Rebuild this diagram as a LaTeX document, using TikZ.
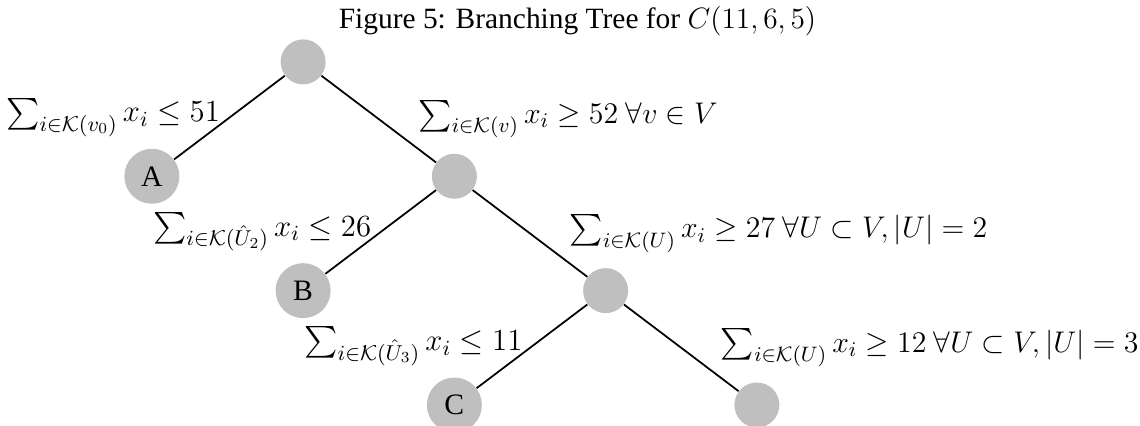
\RequirePackage{fix-cm}
\documentclass[tikz,border=0pt,12pt]{standalone}
\usepackage{amsmath}
\usepackage{fontspec}
\setmainfont{Liberation Serif}
\usetikzlibrary{positioning}
\tikzset{
  bnode/.style={circle,fill=lightgray,minimum size=7.2mm,inner sep=0pt},
  lnode/.style={bnode,minimum size=8.8mm,font=\fontsize{13.5}{16}\selectfont},
  branch/.style={thick},
  cutl/.style={midway,left,font=\fontsize{14}{17}\selectfont},
  cutr/.style={midway,right=4.8mm,font=\fontsize{13.6}{16}\selectfont}
}

\begin{document}
\begin{tikzpicture}[node distance=1.83cm and 2.42cm,on grid]
\useasboundingbox (0,0) rectangle (18.24,-6.8);

\node[font=\fontsize{13.4}{16}\selectfont] (title) at (9.24,-0.34) {Figure 5: Branching Tree for $C(11,6,5)$};

\node[bnode] (root) at (4.85,-0.99) {};
\node[lnode,below left=of root] (A) {A};
\node[bnode,below right=of root] (v1) {};
\node[lnode,below left=of v1] (B) {B};
\node[bnode,below right=of v1] (v2) {};
\node[lnode,below left=of v2] (C) {C};
\node[bnode,below right=of v2] (v3) {};

\draw[branch] (root) -- node[cutl] {$\sum_{i\in\mathcal{K}(v_0)} x_i \leq 51$} (A);
\draw[branch] (root) -- node[cutr] {$\sum_{i\in\mathcal{K}(v)} x_i \geq 52\ \forall v\in V$} (v1);
\draw[branch] (v1) -- node[cutl] {$\sum_{i\in\mathcal{K}(\hat U_2)} x_i \leq 26$} (B);
\draw[branch] (v1) -- node[cutr] {$\sum_{i\in\mathcal{K}(U)} x_i \geq 27\ \forall U\subset V, |U|=2$} (v2);
\draw[branch] (v2) -- node[cutl] {$\sum_{i\in\mathcal{K}(\hat U_3)} x_i \leq 11$} (C);
\draw[branch] (v2) -- node[cutr] {$\sum_{i\in\mathcal{K}(U)} x_i \geq 12\ \forall U\subset V, |U|=3$} (v3);

\end{tikzpicture}
\end{document}
